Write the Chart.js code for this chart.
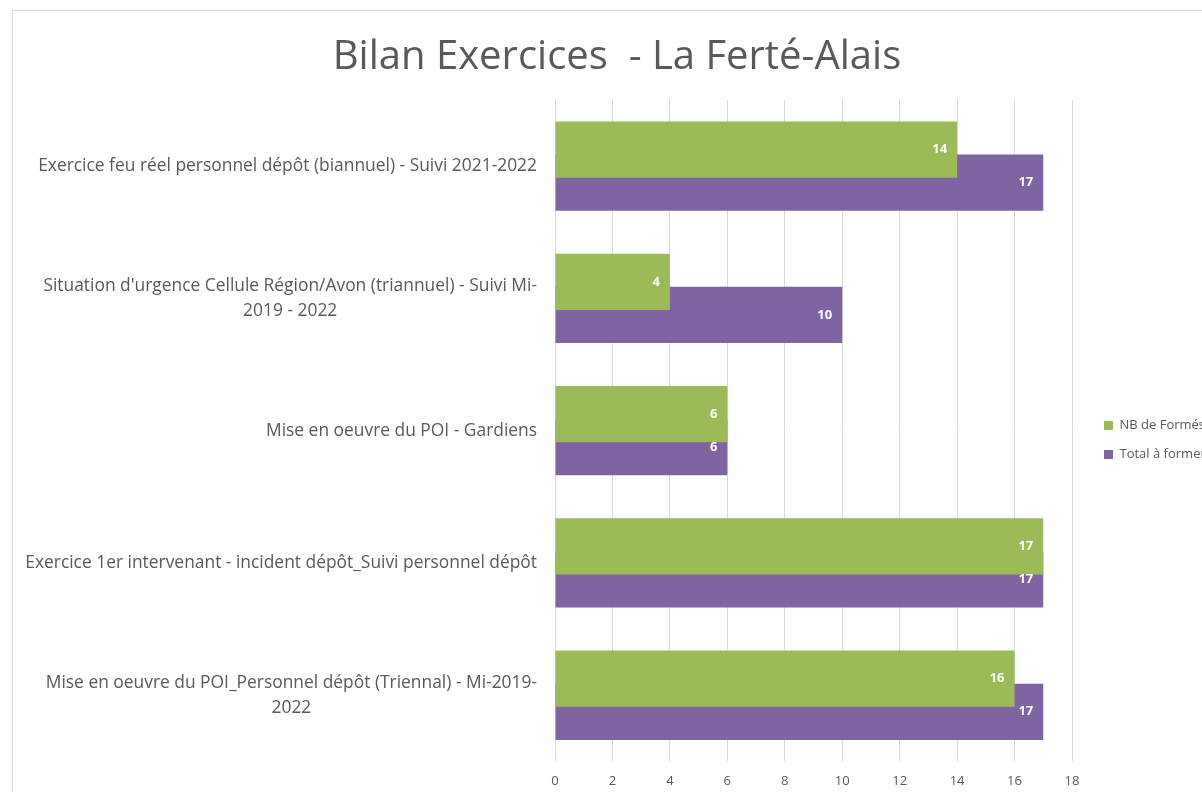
<!DOCTYPE html>
<html>
<head>
<meta charset="utf-8">
<script src="https://cdn.jsdelivr.net/npm/chart.js@4"></script>
<style>
  html, body { margin: 0; padding: 0; overflow: hidden; background: #fff; }
  #frame { position: absolute; left: 12px; top: 10px; width: 1260px; height: 820px;
           border-left: 1px solid #d9d9d9; border-top: 1px solid #d9d9d9; }
  #frame canvas { position: absolute; left: 0; top: 0; }
</style>
</head>
<body>
<div id="frame"><canvas id="chart" width="1260" height="803"></canvas></div>
<script>
// data
const categories = [
  "Exercice feu réel personnel dépôt (biannuel) - Suivi 2021-2022",
  ["Situation d'urgence Cellule Région/Avon (triannuel) - Suivi Mi-", "2019 - 2022"],
  "Mise en oeuvre du POI - Gardiens",
  "Exercice 1er intervenant - incident dépôt_Suivi personnel dépôt",
  ["Mise en oeuvre du POI_Personnel dépôt (Triennal) - Mi-2019-", "2022"]
];
const nbFormes = [14, 4, 6, 17, 16];
const totalAFormer = [17, 10, 6, 17, 17];
const seriesNames = ["NB de Formés", "Total à former"];
const xMin = 0, xMax = 18, xStep = 2;

const family = "'Open Sans', sans-serif";
const grey = "#595959";

// category labels: wrapped labels are centred as a block, like Excel does
const categoryLabels = {
  id: "categoryLabels",
  afterDraw(chart) {
    const scale = chart.scales.y;
    const ctx = chart.ctx;
    ctx.save();
    ctx.font = `17.4px ${family}`;
    ctx.fillStyle = grey;
    ctx.textAlign = "center";
    ctx.textBaseline = "middle";
    const right = scale.right - 18;
    categories.forEach((label, i) => {
      const lines = [].concat(label);
      const w = Math.max(...lines.map(l => ctx.measureText(l).width));
      const y0 = scale.getPixelForTick(i) - (lines.length - 1) * 12.5;
      lines.forEach((l, j) => ctx.fillText(l, right - w / 2, y0 + j * 25));
    });
    ctx.restore();
  }
};

// value labels, white, at the inside end of each bar
const barLabels = {
  id: "barLabels",
  afterDatasetsDraw(chart) {
    const ctx = chart.ctx;
    ctx.save();
    ctx.font = `bold 13px ${family}`;
    ctx.fillStyle = "#fff";
    ctx.textAlign = "right";
    ctx.textBaseline = "middle";
    chart.data.datasets.forEach((ds, di) => {
      chart.getDatasetMeta(di).data.forEach((bar, i) => {
        ctx.fillText(ds.data[i], bar.x - 10, bar.y);
      });
    });
    ctx.restore();
  }
};

const ctx = document.getElementById("chart").getContext("2d");
const chart = new Chart(ctx, {
  type: "bar",
  data: {
    labels: categories,
    datasets: [
      {
        label: seriesNames[0],
        data: nbFormes,
        backgroundColor: "#9BBB59",
        yAxisID: "y",
        categoryPercentage: 0.5,
        barPercentage: 1.7
      },
      {
        label: seriesNames[1],
        data: totalAFormer,
        backgroundColor: "#8064A2",
        yAxisID: "y",
        categoryPercentage: 0.5,
        barPercentage: 1.7
      }
    ]
  },
  options: {
    indexAxis: "y",
    responsive: false,
    animation: false,
    layout: { padding: { left: 0, right: 0, top: 0, bottom: 13 } },
    plugins: {
      title: {
        display: true,
        text: "Bilan Exercices  - La Ferté-Alais",
        color: grey,
        font: { family: family, size: 40, weight: "normal" },
        padding: { top: 23, bottom: 18 }
      },
      legend: {
        position: "right",
        // empty legend title only pushes the two items down to the middle of the plot
        title: { display: true, text: "", font: { size: 10 }, padding: { top: 0, bottom: 56 } },
        labels: {
          boxWidth: 9,
          boxHeight: 9,
          padding: 16,
          color: grey,
          font: { family: family, size: 13 }
        }
      },
      tooltip: { enabled: false }
    },
    scales: {
      x: {
        min: xMin,
        max: xMax,
        ticks: { stepSize: xStep, color: grey, padding: 12, font: { family: family, size: 13 } },
        grid: { color: "#d9d9d9", drawTicks: false },
        border: { display: false }
      },
      y: {
        ticks: { display: false },
        grid: { display: false },
        border: { display: false },
        afterFit(s) { s.width = 542 - s.chart.options.layout.padding.left; }
      },
      y2: {
        axis: "y",
        type: "category",
        position: "right",
        ticks: { display: false },
        grid: { display: false },
        border: { display: false },
        afterFit(s) { s.width = 16; }
      }
    }
  },
  plugins: [categoryLabels, barLabels]
});

// place the title centre and the legend like the reference once the legend width is known
const lw = chart.legend.width;
chart.options.layout.padding.left = Math.max(0, 133 - lw);
chart.options.layout.padding.right = 185 - lw;
chart.update();
</script>
</body>
</html>
